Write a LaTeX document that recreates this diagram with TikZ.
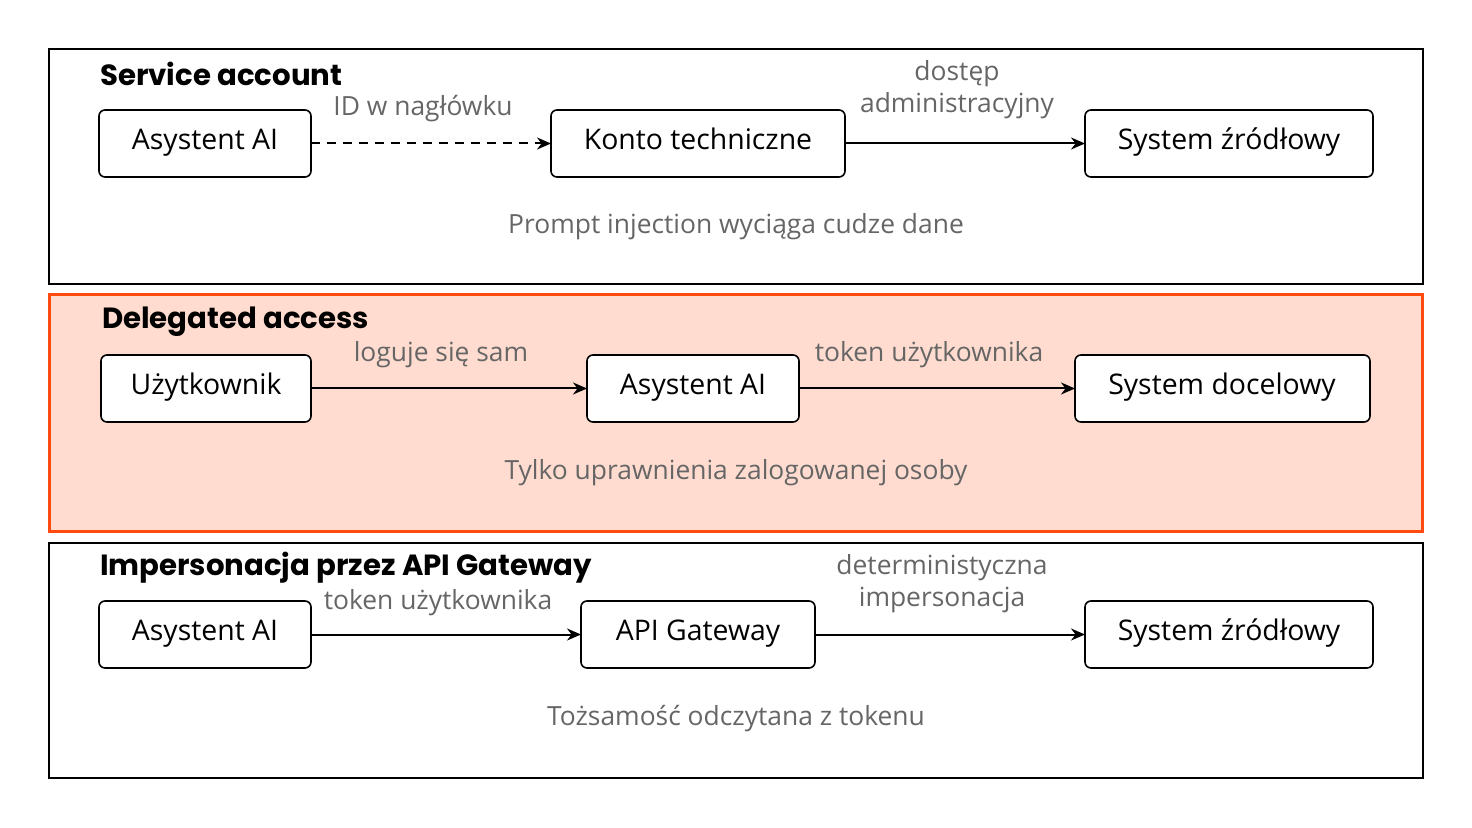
\documentclass[tikz,border=0pt]{standalone}
\usepackage{fontspec}
\setmainfont{Open Sans}
\newfontfamily\headfont{Poppins}
\usetikzlibrary{arrows.meta}
\definecolor{lbl}{HTML}{666666}
\definecolor{pfill}{HTML}{FFDCCF}
\definecolor{pline}{HTML}{FF4A10}
\begin{document}
\begin{tikzpicture}[x=0.5pt,y=-0.5pt,
  panel/.style={draw=black,line width=0.9pt},
  box/.style={draw=black,line width=0.8pt,rounded corners=3pt,fill=white},
  btxt/.style={font=\fontsize{14.2}{16}\selectfont,text height=7.5pt,text depth=1.8pt,inner sep=0pt},
  lab/.style={text=lbl,font=\fontsize{13.2}{15}\selectfont,align=center},
  head/.style={anchor=west,font=\headfont\fontsize{14.6}{16}\selectfont\bfseries},
  arr/.style={-{Stealth[length=7pt,width=6pt]},line width=1pt}]
\useasboundingbox (0,0) rectangle (1472,828);
\fill[white] (0,0) rectangle (1472,828);
% panels
\draw[panel] (49,49) rectangle (1423,284);
\draw[fill=pfill,draw=pline,line width=1.5pt] (49,295) rectangle (1422,531);
\draw[panel] (49,543) rectangle (1423,778);
% headings
\node[head] (h1) at (93,74) {Service account};
\node[head] (h2) at (95,322) {Delegated access};
\node[head] (h3) at (93,568) {Impersonacja przez API Gateway};
% row 1
\draw[box] (99,110) rectangle (311,177); \node[btxt] (a1) at (205,143.5) {Asystent AI};
\draw[box] (551,110) rectangle (845,177); \node[btxt] (b1) at (698,143.5) {Konto techniczne};
\draw[box] (1085,110) rectangle (1373,177); \node[btxt] (c1) at (1229,143.5) {System źródłowy};
\coordinate (a1e) at (311,143.5); \coordinate (b1w) at (551,143.5);
\coordinate (b1e) at (845,143.5); \coordinate (c1w) at (1085,143.5);
\draw[arr,dash pattern=on 4.5pt off 3.5pt] (a1e) -- (b1w);
\draw[arr] (b1e) -- (c1w);
\node[lab] (l1) at (423,109) {ID w nagłówku};
\node[lab] (l2) at (957,90) {dostęp\\[1pt]administracyjny};
\node[lab] (n1) at (736,227) {Prompt injection wyciąga cudze dane};
% row 2
\draw[box] (101,355) rectangle (311,422); \node[btxt] (a2) at (206,388.5) {Użytkownik};
\draw[box] (587,355) rectangle (799,422); \node[btxt] (b2) at (693,388.5) {Asystent AI};
\draw[box] (1075,355) rectangle (1370,422); \node[btxt] (c2) at (1222,388.5) {System docelowy};
\coordinate (a2e) at (311,388.5); \coordinate (b2w) at (587,388.5);
\coordinate (b2e) at (799,388.5); \coordinate (c2w) at (1075,388.5);
\draw[arr] (a2e) -- (b2w);
\draw[arr] (b2e) -- (c2w);
\node[lab] (l3) at (441,355) {loguje się sam};
\node[lab] (l4) at (929,355) {token użytkownika};
\node[lab] (n2) at (736,473) {Tylko uprawnienia zalogowanej osoby};
% row 3
\draw[box] (99,601) rectangle (311,668); \node[btxt] (a3) at (205,634.5) {Asystent AI};
\draw[box] (581,601) rectangle (815,668); \node[btxt] (b3) at (698,634.5) {API Gateway};
\draw[box] (1085,601) rectangle (1373,668); \node[btxt] (c3) at (1229,634.5) {System źródłowy};
\coordinate (a3e) at (311,634.5); \coordinate (b3w) at (581,634.5);
\coordinate (b3e) at (815,634.5); \coordinate (c3w) at (1085,634.5);
\draw[arr] (a3e) -- (b3w);
\draw[arr] (b3e) -- (c3w);
\node[lab] (l5) at (438,603) {token użytkownika};
\node[lab] (l6) at (942,584) {deterministyczna\\[1pt]impersonacja};
\node[lab] (n3) at (736,719) {Tożsamość odczytana z tokenu};
\end{tikzpicture}
\end{document}
